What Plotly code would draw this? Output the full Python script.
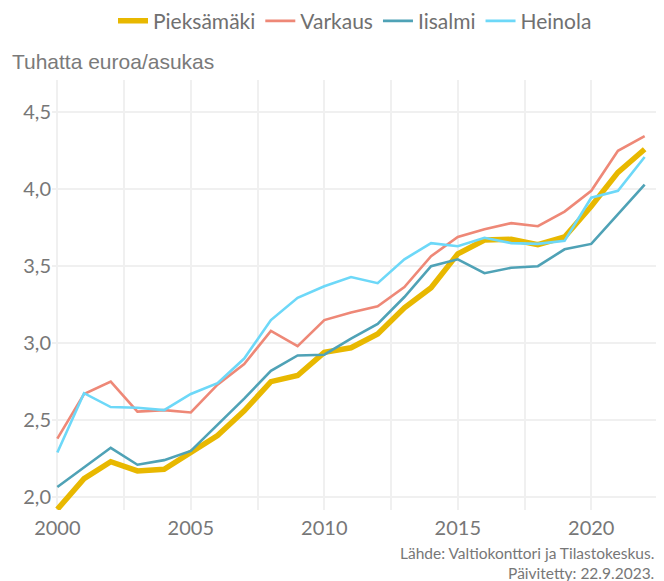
import plotly.graph_objects as go

years = list(range(2000, 2023))
pieksamaki = [1.92, 2.12, 2.23, 2.17, 2.18, 2.29, 2.40, 2.56, 2.75, 2.79, 2.94, 2.97, 3.06,
              3.23, 3.36, 3.58, 3.67, 3.675, 3.64, 3.69, 3.89, 4.11, 4.26]
varkaus = [2.38, 2.67, 2.75, 2.555, 2.565, 2.55, 2.73, 2.865, 3.08, 2.98, 3.15, 3.20, 3.24,
           3.365, 3.565, 3.69, 3.74, 3.78, 3.76, 3.855, 3.99, 4.25, 4.345]
iisalmi = [2.065, 2.19, 2.32, 2.21, 2.24, 2.30, 2.47, 2.64, 2.82, 2.92, 2.925, 3.03, 3.125,
           3.30, 3.50, 3.545, 3.455, 3.49, 3.50, 3.61, 3.645, 3.84, 4.03]
heinola = [2.29, 2.675, 2.585, 2.58, 2.565, 2.67, 2.74, 2.90, 3.15, 3.295, 3.37, 3.43, 3.39,
           3.545, 3.65, 3.63, 3.685, 3.65, 3.645, 3.665, 3.945, 3.99, 4.21]

series = [
    ("Pieksämäki", pieksamaki, "#E8B800", 5.5),
    ("Varkaus", varkaus, "#EE8877", 2.6),
    ("Iisalmi", iisalmi, "#4FA2B6", 2.6),
    ("Heinola", heinola, "#6DD8F8", 2.6),
]

fig = go.Figure()
for name, vals, color, w in series:
    fig.add_trace(go.Scatter(x=years, y=vals, name=name, mode="lines",
                             line=dict(color=color, width=w)))

grid = "#F0F0F0"
fig.update_layout(
    width=656, height=573,
    margin=dict(l=44, r=6, t=72, b=71),
    paper_bgcolor="white", plot_bgcolor="white",
    separators=", ",
    font=dict(family="Lato", color="#777777"),
    showlegend=True,
    legend=dict(orientation="h", x=0.5, xanchor="center", y=0.977, yanchor="middle",
                yref="container", font=dict(family="Lato", size=21, color="#707070"),
                itemwidth=30, tracegroupgap=0),
    title=dict(text="Tuhatta euroa/asukas", x=0.006, xref="container", xanchor="left",
               y=0.906, yref="container", yanchor="middle",
               font=dict(family="Liberation Sans", size=21, color="#7a7a7a")),
)

fig.update_xaxes(range=[1999.8, 2022.5], dtick=5, tick0=2000, showgrid=True, gridcolor=grid,
                 gridwidth=1.5, zeroline=False, showline=False, ticks="", automargin=False,
                 ticklabelstandoff=4,
                 tickfont=dict(size=20, color="#777777"),
                 minor=dict(dtick=2.5, tick0=2000, showgrid=True, gridcolor=grid, gridwidth=1.5))
fig.update_yaxes(range=[1.916, 4.71], dtick=0.5, tick0=2.0, tickformat=".1f", showgrid=True,
                 gridcolor=grid, gridwidth=1.5, zeroline=False, showline=False, ticks="",
                 automargin=False, tickfont=dict(size=20, color="#777777"))

fig.add_annotation(text="Lähde: Valtiokonttori ja Tilastokeskus.<br>Päivitetty: 22.9.2023.",
                   xref="paper", yref="paper", x=1.0, y=0, xshift=-2, yshift=-32,
                   xanchor="right", yanchor="top", align="right", showarrow=False,
                   font=dict(family="Lato", size=15.5, color="#777777"))

fig.write_html("out.html")
